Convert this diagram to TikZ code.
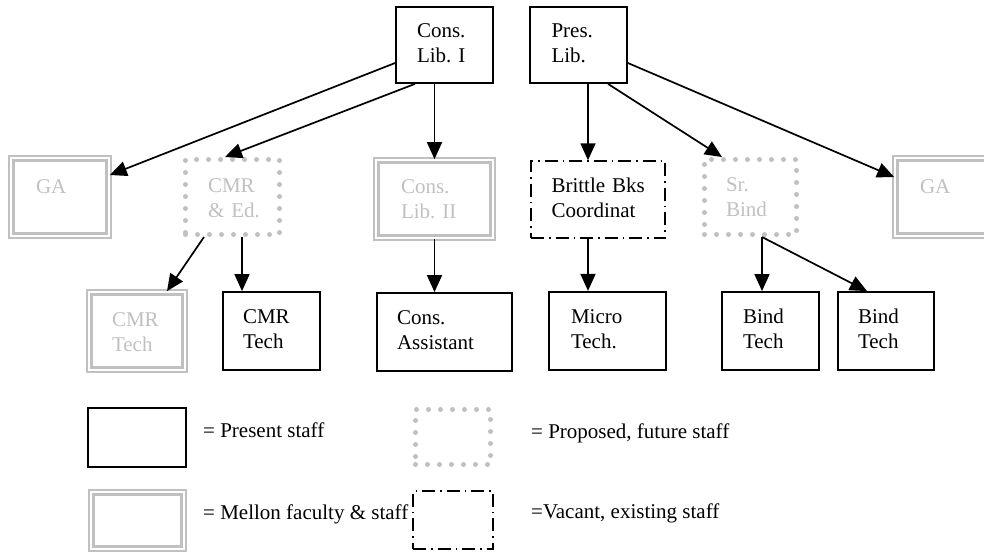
\documentclass[tikz,border=0pt]{standalone}
\usepackage{fontspec}
\setmainfont{Liberation Serif}
\usetikzlibrary{arrows.meta}
\definecolor{silver}{RGB}{192,192,192}

\begin{document}
\frenchspacing
\begin{tikzpicture}[x=1pt,y=-1pt,
    node font=\fontsize{21}{25}\selectfont,
    every node/.style={inner sep=0pt,align=left},
    present/.style={draw,line width=1.8pt},
    mellon/.style={draw=silver,double=white,line width=2.2pt,double distance=2.3pt,text=silver},
    proposed/.style={draw=silver,line width=5pt,line cap=round,dash pattern=on 0pt off 12pt,text=silver},
    vacant/.style={draw,line width=1.5pt,dash pattern=on 13pt off 5pt on 1.5pt off 5pt},
    dims/.style n args={4}{minimum width=#1,text width=#2,text height=#3,text depth=#4},
    reports/.style={-{Triangle[length=17pt,width=15pt]},line width=1.7pt}]
    \useasboundingbox (0,0) rectangle (984,552);
    \node[present,dims={97pt}{55pt}{30pt}{46pt}] (lib1) at (444.5,45) {Cons.\\Lib.~I};
    \node[present,dims={97pt}{54pt}{30pt}{46pt}] (pres) at (578.5,45) {Pres.\\Lib.};
    \node[mellon,dims={97.5pt}{48pt}{34.75pt}{42.75pt}] (gaL) at (60,197) {GA};
    \node[proposed,dims={94pt}{49pt}{32.5pt}{42.5pt}] (cmred) at (232.5,197) {CMR\\\&~Ed.};
    \node[mellon,dims={116.5pt}{67pt}{32.75pt}{44.75pt}] (lib2) at (434.5,199) {Cons.\\Lib.~II};
    \node[vacant,dims={134pt}{93pt}{31pt}{46pt}] (brittle) at (598,199.5) {Brittle~Bks\\Coordinat};
    \node[proposed,dims={92pt}{49pt}{32.2pt}{42.8pt}] (srbind) at (750.5,197) {Sr.\\Bind};
    \node[mellon,dims={97.5pt}{48pt}{34.75pt}{42.75pt}] (gaR) at (944,197) {GA};
    \node[mellon,dims={95.5pt}{50pt}{33.75pt}{43.75pt}] (cmrtechG) at (137,331) {CMR\\Tech};
    \node[present,dims={97pt}{57pt}{31pt}{47pt}] (cmrtech) at (271.5,331) {CMR\\Tech};
    \node[present,dims={135pt}{95pt}{31pt}{47pt}] (assist) at (444.5,332) {Cons.\\Assistant};
    \node[present,line width=2.3pt,dims={117pt}{73pt}{31pt}{47pt}] (micro) at (607.5,331) {Micro\\Tech.};
    \node[present,dims={97pt}{55pt}{31pt}{47pt}] (bind1) at (770.5,331) {Bind\\Tech};
    \node[present,dims={96pt}{56pt}{31pt}{47pt}] (bind2) at (886,331) {Bind\\Tech};
    \draw[reports] ([yshift=-18pt]lib1.west) -- ([yshift=22pt]gaL.east);
    \draw[reports] ([xshift=-29.5pt]lib1.south) -- ([xshift=-7.5pt]cmred.north);
    \draw[reports] (lib1.south -| lib2.north) -- (lib2.north);
    \draw[reports] ([xshift=9.5pt]pres.south) -- ([xshift=-10pt]brittle.north);
    \draw[reports] ([xshift=29.5pt]pres.south) -- ([xshift=-28.5pt]srbind.north);
    \draw[reports] ([yshift=-18pt]pres.east) -- ([yshift=20pt]gaR.west);
    \draw[reports] ([xshift=-28.5pt]cmred.south) -- ([xshift=30pt]cmrtechG.north);
    \draw[reports] ([xshift=9.5pt]cmred.south) -- ([xshift=-29.5pt]cmrtech.north);
    \draw[reports] (lib2.south) -- (lib2.south |- assist.north);
    \draw[reports] ([xshift=-10pt]brittle.south) -- ([xshift=-19.5pt]micro.north);
    \draw[reports] ([xshift=11.5pt]srbind.south) -- ([xshift=-8.5pt]bind1.north);
    \draw[reports] ([xshift=11.5pt]srbind.south) -- ([xshift=-19pt]bind2.north);
    \node[present,minimum width=98pt,minimum height=59pt] (keyPresent) at (137,437.5) {};
    \node[proposed,minimum width=75pt,minimum height=55pt] (keyProposed) at (453,437) {};
    \node[mellon,minimum width=92.5pt,minimum height=56.5pt] (keyMellon) at (137.5,520.5) {};
    \node[vacant,minimum width=80pt,minimum height=58pt] (keyVacant) at (453,520) {};
    \node[anchor=base west] (txtPresent) at (203,437) {= Present staff};
    \node[anchor=base west] (txtProposed) at (531,438) {= Proposed, future staff};
    \node[anchor=base west] (txtMellon) at (203,519) {= Mellon faculty \& staff};
    \node[anchor=base west] (txtVacant) at (531,518) {=Vacant, existing staff};
\end{tikzpicture}
\end{document}
